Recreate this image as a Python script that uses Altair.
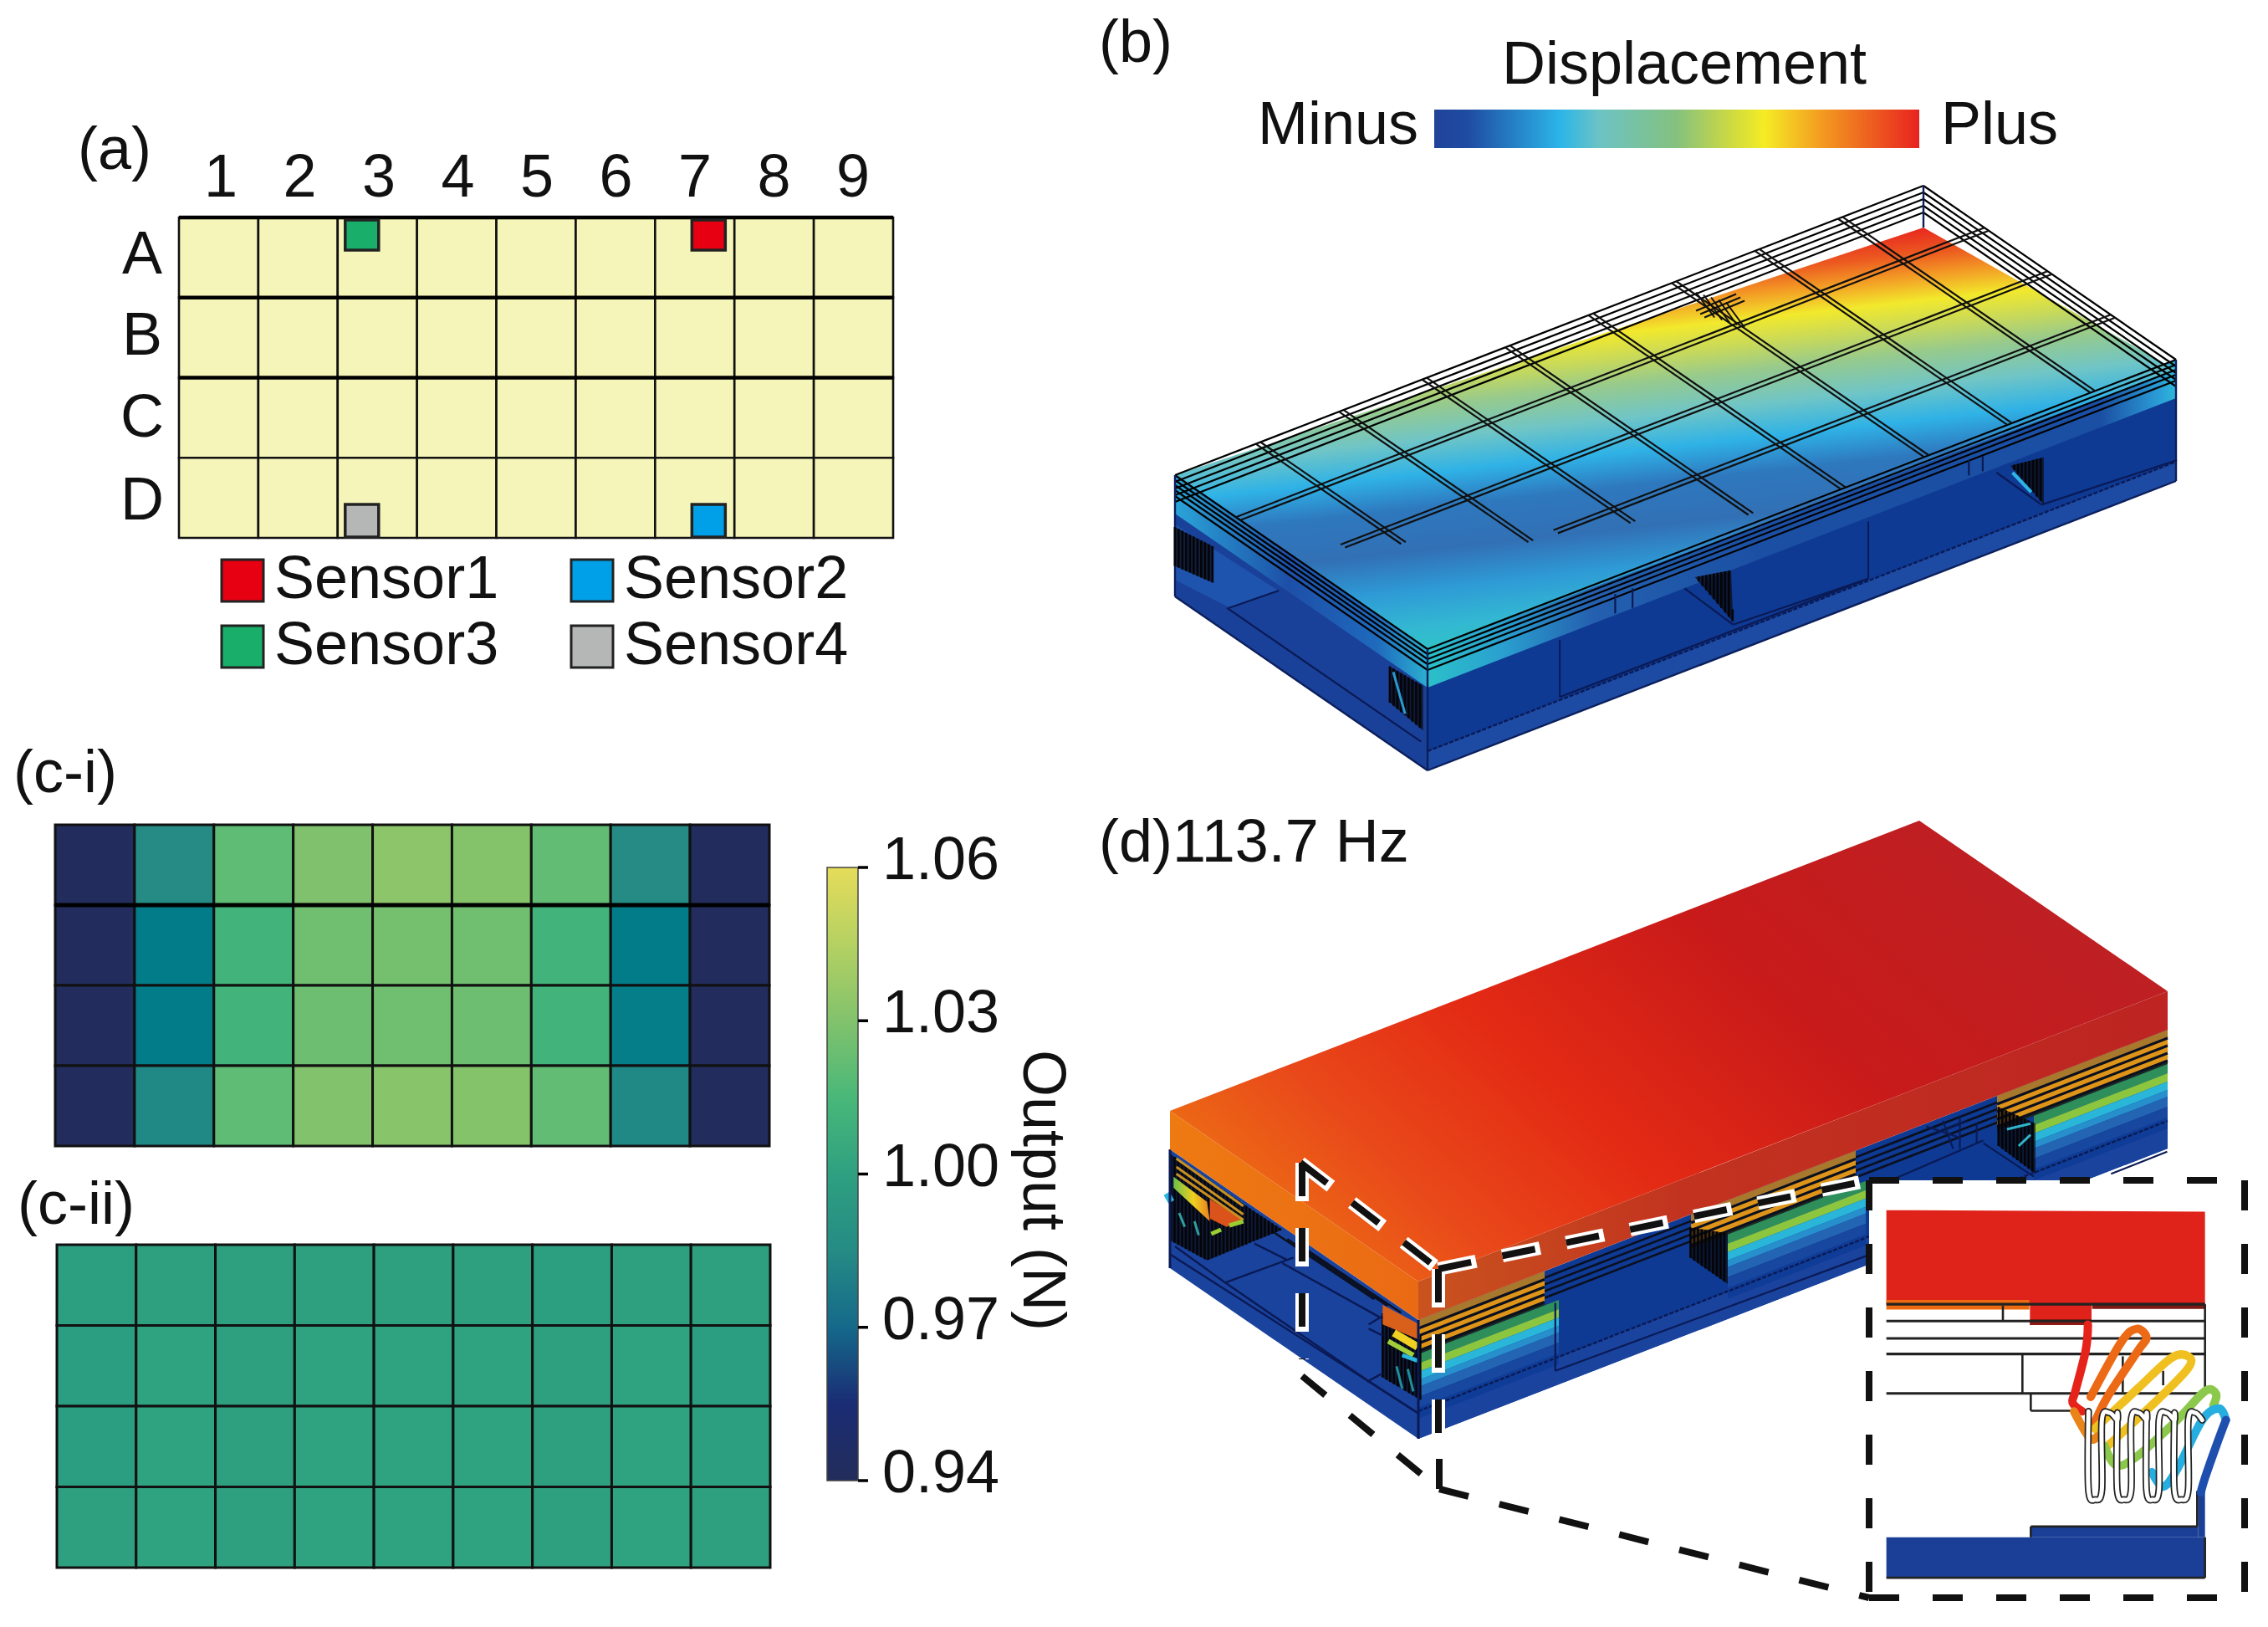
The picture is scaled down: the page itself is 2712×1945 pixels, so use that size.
import altair as alt
import pandas as pd

alt.data_transformers.disable_max_rows()

# ---------- values ----------
COLS = ["1", "2", "3", "4", "5", "6", "7", "8", "9"]
ROWS = ["A", "B", "C", "D"]
SENSOR_NAMES = ["Sensor1", "Sensor2", "Sensor3", "Sensor4"]
SENSOR_COLORS = ["#E60012", "#00A0E9", "#19AE69", "#B5B6B6"]
SENSOR_CELLS = [("A", 7), ("D", 7), ("A", 3), ("D", 3)]
C1 = [
    [0.941, 0.985, 1.020, 1.029, 1.033, 1.031, 1.021, 0.985, 0.941],
    [0.941, 0.978, 1.012, 1.025, 1.026, 1.025, 1.012, 0.978, 0.941],
    [0.941, 0.978, 1.012, 1.024, 1.025, 1.024, 1.012, 0.979, 0.941],
    [0.941, 0.984, 1.020, 1.030, 1.032, 1.031, 1.021, 0.984, 0.941],
]
C2 = [
    [0.999, 1.000, 1.000, 1.000, 1.000, 1.000, 0.999, 1.000, 1.000],
    [0.998, 1.001, 1.000, 1.001, 1.001, 1.001, 1.000, 1.001, 0.998],
    [0.998, 1.001, 1.000, 1.001, 1.001, 1.001, 1.000, 1.001, 0.999],
    [1.000, 1.001, 1.000, 1.001, 1.001, 1.001, 1.000, 1.001, 1.000],
]
CB_DOMAIN = [0.94, 0.955, 0.97, 0.985, 1.0, 1.015, 1.03, 1.045, 1.06]
CB_RANGE = ["#232D5B", "#1A2C74", "#15698A", "#258B84", "#2EA080", "#49B879", "#82C26C", "#B5D162", "#E5DC5A"]
CB_TICKS = [0.94, 0.97, 1.00, 1.03, 1.06]

FONT = "Liberation Sans"
FS = 72
X = lambda f: alt.X(f, type="quantitative", scale=alt.Scale(domain=[8, 2704], nice=False, zero=False), axis=None)
Y = lambda f: alt.Y(f, type="quantitative", scale=alt.Scale(domain=[1937, 8], nice=False, zero=False), axis=None)

layers = []


def grad(stops, x1=0, y1=0, x2=1, y2=0):
    return alt.Gradient(gradient="linear", x1=x1, y1=y1, x2=x2, y2=y2,
                        stops=[alt.GradientStop(offset=o, color=c) for o, c in stops])


def envelope(pts, x):
    ys = []
    n = len(pts)
    for k in range(n):
        (a, b), (c, d) = pts[k], pts[(k + 1) % n]
        if min(a, c) <= x <= max(a, c):
            if a == c:
                ys += [b, d]
            else:
                ys.append(b + (d - b) * (x - a) / (c - a))
    return min(ys), max(ys)


def poly(pts, fill, opacity=1.0):
    """Convex polygon drawn as an area between its upper and lower outline."""
    rows = []
    for x in sorted({p[0] for p in pts}):
        lo, hi = envelope(pts, x)
        rows.append({"x": x, "y": lo, "y2": hi})
    layers.append(alt.Chart(pd.DataFrame(rows)).mark_area(color=fill, opacity=opacity, interpolate="linear")
                  .encode(x=X("x"), y=Y("y"), y2=alt.Y2("y2")))


def seg(items, color="black", w=2.0, dash=None, opacity=1.0, cap="butt", offset=None):
    df = pd.DataFrame(items, columns=["x", "y", "x2", "y2"])
    kw = dict(color=color, strokeWidth=w, opacity=opacity, strokeCap=cap)
    if dash:
        kw["strokeDash"] = dash
    if offset:
        kw["strokeDashOffset"] = offset
    layers.append(alt.Chart(df).mark_rule(**kw).encode(x=X("x"), y=Y("y"), x2=alt.X2("x2"), y2=alt.Y2("y2")))


def hatch(pts, step=4.5, w=2.6):
    """Dense wire bundle: dark veil plus vertical strokes."""
    poly(pts, "#0b0b12", opacity=.72)
    lo, hi = min(p[0] for p in pts), max(p[0] for p in pts)
    items = []
    x = lo
    while x <= hi:
        a, b = envelope(pts, x)
        items.append((x, a, x, b))
        x += step
    seg(items, color="#050508", w=w)


def path(pts, color="black", w=2.0, curve="linear", dash=None, cap="round"):
    df = pd.DataFrame(pts, columns=["x", "y"])
    df["i"] = range(len(df))
    kw = dict(color=color, strokeWidth=w, interpolate=curve, strokeCap=cap, strokeJoin="round")
    if dash:
        kw["strokeDash"] = dash
    layers.append(alt.Chart(df).mark_line(**kw).encode(x=X("x"), y=Y("y"), order=alt.Order("i:Q")))


def text(items, align="center", size=FS, angle=0):
    df = pd.DataFrame(items, columns=["x", "y", "t"])
    layers.append(alt.Chart(df).mark_text(font=FONT, fontSize=size, align=align, baseline="middle",
                                          color="#111111", angle=angle)
                  .encode(x=X("x"), y=Y("y"), text=alt.Text("t:N")))


def rect(x0, x1, y0, y1, **mark):
    layers.append(alt.Chart(pd.DataFrame([{"x": x0, "x2": x1, "y": y0, "y2": y1}])).mark_rect(**mark)
                  .encode(x=X("x"), x2=alt.X2("x2"), y=Y("y"), y2=alt.Y2("y2")))


def cells_frame(values, x0, x1, y0, y1):
    rows = []
    dx, dy = (x1 - x0) / len(values[0]), (y1 - y0) / len(values)
    for r, line in enumerate(values):
        for c, v in enumerate(line):
            rows.append({"x": x0 + c * dx, "x2": x0 + (c + 1) * dx, "y": y0 + r * dy, "y2": y0 + (r + 1) * dy, "v": v})
    return pd.DataFrame(rows)


# ---------- (a) ----------
AX0, AX1, AY0, AY1 = 214, 1068, 260, 643
dxa, dya = (AX1 - AX0) / 9, (AY1 - AY0) / 4
layers.append(alt.Chart(cells_frame([[0] * 9] * 4, AX0, AX1, AY0, AY1))
              .mark_rect(fill="#F5F5B9", stroke="#111111", strokeWidth=2.6)
              .encode(x=X("x"), x2=alt.X2("x2"), y=Y("y"), y2=alt.Y2("y2")))
seg([(AX0, AY0 + dya * r, AX1, AY0 + dya * r) for r in (0, 1, 2)], w=4.5)
SENSOR_INSET = {3: 9, 7: 44}
for (rw, cl), col in zip(SENSOR_CELLS, SENSOR_COLORS):
    x0 = AX0 + (cl - 1) * dxa + SENSOR_INSET[cl]
    y0, y1 = (AY0 + 3, AY0 + 39) if rw == "A" else (AY1 - 40, AY1 - 1)
    rect(x0, x0 + 40, y0, y1, fill=col, stroke="#222222", strokeWidth=3.5)
text([(264 + 94.5 * i, 213, c) for i, c in enumerate(COLS)])
text([(170, y, c) for y, c in zip([305, 402, 500, 599], ROWS)])
text([(93, 180, "(a)")], align="left")
KEY_X, KEY_Y = [265, 683], [669, 748]
for k, (nm, col) in enumerate(zip(SENSOR_NAMES, SENSOR_COLORS)):
    kx, ky = KEY_X[k % 2], KEY_Y[k // 2]
    rect(kx, kx + 50, ky, ky + 50, fill=col, stroke="#222222", strokeWidth=3)
    text([(kx + 63, ky + 24, nm)], align="left")

# ---------- (c) ----------
heat = alt.Scale(domain=CB_DOMAIN, range=CB_RANGE)
for vals, (a, b, c, d) in ((C1, (66, 920, 986, 1370)), (C2, (68, 921, 1488, 1874))):
    layers.append(alt.Chart(cells_frame(vals, a, b, c, d)).mark_rect(stroke="#111111", strokeWidth=3)
                  .encode(x=X("x"), x2=alt.X2("x2"), y=Y("y"), y2=alt.Y2("y2"),
                          color=alt.Color("v:Q", scale=heat, legend=None)))
seg([(66, 986 + 96, 920, 986 + 96)], w=5)
CBX0, CBX1, CBY0, CBY1 = 989, 1026, 1037, 1770
rect(CBX0, CBX1, CBY0, CBY1, stroke="#444444", strokeWidth=1.5,
     color=grad([((v - CB_DOMAIN[0]) / (CB_DOMAIN[-1] - CB_DOMAIN[0]), c) for v, c in zip(CB_DOMAIN, CB_RANGE)],
                x1=0, y1=1, x2=0, y2=0))
cb_y = lambda t: CBY0 + (CB_DOMAIN[-1] - t) / (CB_DOMAIN[-1] - CB_DOMAIN[0]) * (CBY1 - CBY0)
seg([(CBX1, cb_y(t), CBX1 + 12, cb_y(t)) for t in CB_TICKS], w=3.5)
text([(1055, cb_y(t) - 8, f"{t:.2f}") for t in CB_TICKS], align="left")
text([(16, 925, "(c-i)"), (21, 1441, "(c-ii)")], align="left")
text([(1246, 1423, "Output (N)")], angle=90)

# ---------- (b) ----------
zb = lambda x, y: (1380 + x / 1.206, 450 + y / 3)
A, R, L, F = (2300, 222), (2602, 430), (1405, 568), (1707, 776)
ux, uy = (A[0] - L[0]) / 9, (A[1] - L[1]) / 9
vx, vy = (F[0] - L[0]) / 4, (F[1] - L[1]) / 4
G = lambda i, j: (L[0] + i * ux + j * vx, L[1] + i * uy + j * vy)
H = 145
BLUE, BLUE2, BLUE3 = "#0E3A94", "#1A4199", "#1D4BA3"

rect(1715, 2295, 131, 177,
     color=grad([(0, "#20429A"), (.07, "#1F4CA3"), (.26, "#2BB5E8"), (.34, "#6CC3C4"), (.5, "#85C17E"),
                 (.62, "#D2DC3C"), (.68, "#F5EC25"), (.8, "#F39A20"), (1, "#E8231F")]))
text([(2014, 78, "Displacement")])
text([(1696, 150, "Minus")], align="right")
text([(2321, 150, "Plus")], align="left")
text([(1314, 52, "(b)")], align="left")

# body of the device
poly([(L[0], L[1] + 32), (F[0], F[1] + 40), (F[0], F[1] + H), (L[0], L[1] + H)], BLUE2)
poly([(F[0], F[1] + 44), (R[0], R[1] + 44), (R[0], R[1] + H), (F[0], F[1] + H)], BLUE)
poly([(F[0], F[1] + 122), (R[0], R[1] + 122), (R[0], R[1] + H), (F[0], F[1] + H)], BLUE3)
poly([zb(30, 530), zb(180, 770), zb(110, 830), zb(30, 730)], "#1E54AE")
# plate sides
poly([L, F, (F[0], F[1] + 46), (L[0], L[1] + 46)],
     grad([(0, "#2AA5D8"), (.45, "#1D4FA8"), (.8, "#1F6ABD"), (1, "#2BAFD0")]))
poly([F, R, (R[0], R[1] + 46), (F[0], F[1] + 46)],
     grad([(0, "#2BC0C9"), (.1, "#2AA0D0"), (.22, "#2460AF"), (.45, "#1B4FA3"), (.9, "#1B4FA3"), (.98, "#2BA0D8"), (1, "#2DB8D8")]))
# top surface
poly([L, (A[0], A[1] + 50), (R[0], R[1] + 12), F],
     grad([(0, "#E8281F"), (.06, "#EC5A20"), (.11, "#F39A25"), (.17, "#F2E92C"), (.23, "#C8D95A"),
           (.29, "#97CA8C"), (.37, "#70C5C6"), (.45, "#2FB2E6"), (.53, "#2E78BE"), (.63, "#3270B5"),
           (.72, "#2E9AD6"), (.81, "#33B8D2"), (.87, "#2FC3C6"), (1, "#2FC3C6")],
          x1=.75, y1=0, x2=.993, y2=.95))
# rims
back = []
for z in (0, 8, 16, 24, 32):
    back += [(L[0], L[1] + z, A[0], A[1] + z), (A[0], A[1] + z, R[0], R[1] + z)]
seg(back, w=2.2)
front = []
for z in (0, 6, 12, 18, 25):
    front += [(L[0], L[1] + z, F[0], F[1] + z), (F[0], F[1] + z, R[0], R[1] + z)]
seg(front, w=2.2)
seg([(A[0], A[1], A[0], A[1] + 50), (L[0], L[1], L[0], L[1] + H), (F[0], F[1], F[0], F[1] + H), (R[0], R[1], R[0], R[1] + H),
     (L[0], L[1] + H, F[0], F[1] + H), (F[0], F[1] + H, R[0], R[1] + H)], w=2.4, color="#0b1f5c")
# mesh
U_START = {1: 0, 2: .5, 3: 2.3}
V_END = {1: 2.3, 2: 3.0, 3: 3.3, 4: 3.85, 5: 4, 6: 4, 7: 4, 8: 4}
mesh = []
for j, st in U_START.items():
    for o in (-.035, .035):
        p, q = G(st, j + o), G(9, j + o)
        mesh.append((p[0], p[1], q[0], q[1]))
for i, en in V_END.items():
    for o in (-.028, .028):
        p, q = G(i + o, 0), G(i + o, en)
        mesh.append((p[0], p[1], q[0], q[1]))
seg(mesh, w=2.2, color="#101010")
# small wire cluster near the far edge
p0 = G(6.0, 0.35)
seg([(p0[0] + k * 9, p0[1] - 6 + k * 3, p0[0] + k * 9 + 22, p0[1] + 24 + k * 3) for k in range(5)] +
    [(p0[0] + k * 5, p0[1] + 16 + k * 4, p0[0] + 48 + k * 5, p0[1] - 4 + k * 4) for k in range(3)], w=2, color="#101010")
# seams and details on the body
seg([(F[0], F[1] + 122, R[0], R[1] + 122)], w=2.4, color="#0a1a55", dash=[5, 2])
seg([zb(585, 945) + zb(585, 1150), zb(1030, 520) + zb(1030, 725)], w=2, color="#0a1a55")
seg([zb(585, 1150) + zb(1030, 725), zb(665, 780) + zb(665, 850), zb(690, 760) + zb(690, 830), zb(1175, 300) + zb(1175, 355),
     zb(1195, 285) + zb(1195, 340), zb(105, 830) + zb(385, 1310), zb(108, 830) + zb(180, 768), zb(765, 760) + zb(835, 890),
     zb(1215, 345) + zb(1280, 460), zb(835, 890) + zb(1030, 725), zb(1280, 460) + zb(1475, 300)],
    w=2.2, color="#0a1a55")
hatch([zb(780, 720), zb(832, 695), zb(835, 880)])
hatch([zb(1235, 320), zb(1283, 290), zb(1283, 460)])
hatch([zb(340, 1040), zb(388, 1110), zb(388, 1270), zb(340, 1170)])
hatch([zb(30, 540), zb(85, 610), zb(85, 740), zb(30, 680)])
seg([zb(345, 1060) + zb(362, 1210)], w=3, color="#2A9AD0")
seg([zb(1238, 345) + zb(1265, 415)], w=4, color="#2FB4E3")

# ---------- (d) ----------
z5 = lambda x, y: (1380 + x / 1.188, 960 + y / 3)
z6 = lambda x, y: (1380 + x / 1.188, 1400 + y / 2.89)
z7 = lambda x, y: (2220 + x / 3, 1400 + y / 2.89)
zc = lambda x, y: (1390 + x / 3, 1370 + y / 3)
zd = lambda x, y: (1990 + x / 2.489, 1200 + y / 3)
DA, DR, DL, DF = (2295, 981), (2592, 1185), (1399, 1328), (1696, 1532)
TH = 46
BOT = 188
SL = (DR[1] - DF[1]) / (DR[0] - DF[0])
fy = lambda x, off=0: DF[1] + TH + SL * (x - DF[0]) + off   # just below the plate on the right-hand face

poly([(DL[0], DL[1] + TH), (DF[0], DF[1] + TH), (DF[0], DF[1] + BOT), (DL[0], DL[1] + BOT)], "#1A439E")
poly([(DF[0], DF[1] + TH), (DR[0], DR[1] + TH), (DR[0], DR[1] + BOT), (DF[0], DF[1] + BOT)], "#0E3A94")
poly([(DF[0], DF[1] + 155), (DR[0], DR[1] + 155), (DR[0], DR[1] + BOT), (DF[0], DF[1] + BOT)], "#1A439E")

BANDS_GOLD = [(0, 10, "#A8782C"), (10, 38, "#DE9418"), (38, 41, "#1c2a20")]
BANDS_COLD = [(41, 52, "#2F8F5A"), (52, 62, "#8CC63F"), (62, 72, "#29B6D8"), (72, 80, "#2790CC"), (80, 92, "#2465B3"),
              (92, 105, "#17479F"), (105, 118, "#0F3C96")]
SPANS = [(1696, 1847, 1696, 1864), (2022, 2219, 2066, 2231), (2388, 2592, 2432, 2592)]
seg([(DF[0], fy(DF[0], o), DR[0], fy(DR[0], o)) for o in (8, 16, 24, 32)], w=2.6, color="#0b1020")
for g0, g1, c0, c1 in SPANS:
    for a, b, c in BANDS_GOLD:
        poly([(g0, fy(g0, a)), (g1, fy(g1, a)), (g1, fy(g1, b)), (g0, fy(g0, b))], c)
    for a, b, c in BANDS_COLD:
        poly([(c0, fy(c0, a)), (c1, fy(c1, a)), (c1, fy(c1, b)), (c0, fy(c0, b))], c)
    seg([(g0, fy(g0, o), g1, fy(g1, o)) for o in (10, 19, 28, 37)], w=3.2, color="#0b1020")
seg([(DF[0], DF[1] + 155, DR[0], DR[1] + 155)], w=2.4, color="#0a1a55", dash=[5, 2])
seg([z6(570, 455) + z6(570, 690), z6(570, 690) + z6(1015, 290),
     zd(680, 630) + zd(950, 490), zd(950, 500) + zd(1100, 620), zd(930, 430) + zd(930, 500),
     zd(880, 400) + zd(880, 520), zd(830, 420) + zd(860, 520), zd(780, 440) + zd(880, 480), zd(800, 470) + zd(900, 420),
     zd(1497, 530) + zd(1330, 610)], w=2.2, color="#0a1a55")
# dark spring blocks on the right-hand face
hatch([z6(762, 195), z6(815, 215), z6(815, 390), z6(762, 300)])
hatch([zd(995, 370), zd(1105, 430), zd(1105, 610), zd(995, 510)])
seg([zd(1055, 510) + zd(1090, 470), zd(1020, 450) + zd(1090, 430)], w=3, color="#2FB4C8")
# left-hand corner details
hatch([zc(30, 30), zc(330, 235), zc(430, 300), zc(160, 410), zc(30, 340)])
hatch([zc(790, 600), zc(925, 680), zc(925, 910), zc(790, 830)])
poly([zc(40, 110), zc(160, 200), zc(170, 270), zc(40, 150)], grad([(0, "#6CC04A"), (.55, "#F0D020"), (1, "#E88020")]))
poly([zc(170, 190), zc(290, 265), zc(230, 290), zc(170, 260)], "#D9531A")
seg([zc(50, 45) + zc(290, 215), zc(50, 75) + zc(290, 245), zc(50, 100) + zc(290, 265)], w=3, color="#C99020")
seg([zc(240, 285) + zc(290, 270), zc(175, 315) + zc(210, 300)], w=5, color="#9ACD32")
seg([zc(15, 170) + zc(32, 200)], w=8, color="#2AB4E0")
seg([zc(60, 240) + zc(80, 290), zc(115, 270) + zc(130, 320)], w=3, color="#2F9FA0")
poly([zc(790, 570), zc(922, 640), zc(922, 695), zc(790, 640)], "#D9601A")
seg([zc(830, 670) + zc(915, 720)], w=9, color="#F0D020")
seg([zc(810, 700) + zc(900, 750)], w=6, color="#A0CF3A")
seg([zc(860, 750) + zc(915, 770)], w=5, color="#2AB4DC")
seg([zc(840, 790) + zc(860, 870), zc(880, 800) + zc(900, 880)], w=3, color="#1F8F9A")
seg([zc(30, 390) + zc(920, 960), zc(225, 490) + zc(735, 840), zc(225, 490) + zc(470, 400), zc(45, 360) + zc(225, 490),
     zc(330, 350) + zc(450, 410), zc(430, 420) + zc(790, 620), zc(735, 845) + zc(790, 815), zc(735, 840) + zc(920, 960),
     zc(740, 640) + zc(790, 610), zc(740, 655) + zc(790, 680)], w=2.4, color="#0a1a55")
seg([(zc(400, 310)[0] + o * 2, zc(400, 310)[1] + o, zc(760, 550)[0] + o * 2, zc(760, 550)[1] + o) for o in (0, 8, 16)],
    w=2.4, color="#0b1020")
seg([(DF[0], DF[1] + TH, DF[0], DF[1] + BOT), (DL[0], DL[1] + TH, DL[0], DL[1] + BOT)], w=3, color="#0a1a55")

# plate: sides and top
poly([DL, DF, (DF[0], DF[1] + TH), (DL[0], DL[1] + TH)], grad([(0, "#EE7A12"), (1, "#EA6A14")]))
poly([DF, DR, (DR[0], DR[1] + TH), (DF[0], DF[1] + TH)],
     grad([(0, "#C9531E"), (.35, "#C2331F"), (1, "#BD2422")]))
poly([DL, DA, DR, DF],
     grad([(0, "#EE7B12"), (.22, "#E9491A"), (.42, "#E32A14"), (.68, "#C81A1A"), (1, "#BD2024")],
          x1=0, y1=.85, x2=1, y2=.35))

# inset background (covers the body)
BX0, BX1, BY0, BY1 = 2235, 2684, 1411, 1910
poly([(BX0, BY0), (2700, BY0), (2700, BY1), (BX0, BY1)], "#FFFFFF")

# dashed zoom lines with white halo where they cross the device
P1, J = (1555, 1390), (1720, 1517)
P2, TIP = (1557, 1645), (1721, 1780)
halo = [(P1[0], P1[1], J[0], J[1]), (J[0], J[1], BX0, BY0), (J[0], J[1], J[0], 1718), (P1[0] + 2, P1[1], P1[0] + 2, P2[1] - 20)]
seg(halo, color="#FFFFFF", w=16, dash=[46, 32])
seg(halo, color="#111111", w=8, dash=[40, 38], offset=0)
outer = [(P2[0], P2[1], TIP[0], TIP[1]), (TIP[0], TIP[1], TIP[0], 1730), (TIP[0], TIP[1], BX0, BY1)]
seg(outer, color="#111111", w=8, dash=[36, 38])
seg([(BX0, BY0, BX1, BY0), (BX0, BY1, BX1, BY1), (BX0, BY0, BX0, BY1), (BX1, BY0, BX1, BY1)],
    color="#111111", w=8, dash=[36, 40])

# inset contents
INSET_RED = "#E0231A"
poly([z7(107, 135), z7(1250, 140), z7(1250, 460), z7(107, 460)], INSET_RED)
poly([z7(107, 445), z7(620, 445), z7(620, 478), z7(107, 478)], "#EE6A10")
poly([z7(845, 455), z7(1250, 455), z7(1250, 476), z7(845, 476)], "#7A1A12")
poly([z7(622, 460), z7(843, 460), z7(843, 532), z7(622, 532)], INSET_RED)
poly([z7(622, 512), z7(843, 512), z7(843, 532), z7(622, 532)], "#8A1A12")
INSET_BLUE = "#1B3F97"
poly([z7(107, 1265), z7(1250, 1265), z7(1250, 1405), z7(107, 1405)], INSET_BLUE)
poly([z7(625, 1228), z7(1225, 1228), z7(1225, 1265), z7(625, 1265)], INSET_BLUE)
poly([z7(1225, 1100), z7(1250, 1100), z7(1250, 1265), z7(1225, 1265)], INSET_BLUE)
seg([z7(107, 460) + z7(1250, 460), z7(107, 518) + z7(1250, 518), z7(107, 578) + z7(1250, 578),
     z7(107, 632) + z7(1250, 632), z7(107, 768) + z7(1250, 768)], w=3.2, color="#222222")
seg([z7(1250, 460) + z7(1250, 768), z7(525, 465) + z7(525, 515), z7(595, 635) + z7(595, 768),
     z7(625, 770) + z7(625, 828), z7(625, 828) + z7(830, 828), z7(955, 640) + z7(955, 765), z7(1100, 690) + z7(1100, 740),
     z7(107, 1405) + z7(1250, 1405), z7(1250, 1265) + z7(1250, 1405), z7(625, 1228) + z7(1222, 1228),
     z7(1222, 1228) + z7(1222, 1105), z7(625, 1228) + z7(625, 1265)], w=2.6, color="#222222")

# meander in its rest position
strands = [832, 880, 935, 985, 1040, 1085, 1140, 1190, 1240]
mp = []
for k in range(len(strands) - 1):
    a, b = strands[k], strands[k + 1]
    if k % 2 == 0:
        mp += [(a, 850 if k else 830), (a, 1100), ((a + b) / 2, 1135), (b, 1100)]
    else:
        mp += [(a, 860), ((a + b) / 2, 835), (b, 860)]
mp = [z7(*p) for p in mp]

# displaced, coloured spring
SPRING = [
    ([(830, 530), (822, 620), (785, 760), (775, 800), (810, 830)], "#E6231A"),
    ([(780, 830), (840, 925), (875, 900)], "#E8841A"),
    ([(840, 780), (950, 590), (1005, 545), (1040, 575), (1010, 620), (900, 780), (850, 880)], "#EC6A16"),
    ([(855, 890), (1010, 750), (1130, 645), (1190, 640), (1190, 680), (1080, 790), (900, 950)], "#F0C020"),
    ([(890, 950), (930, 1015), (1000, 990), (1150, 860), (1250, 760), (1290, 770), (1280, 810)], "#8CC84B"),
    ([(1060, 1040), (1100, 1090), (1150, 1030), (1240, 860), (1300, 820), (1325, 860)], "#27AEE0"),
    ([(1325, 860), (1290, 950), (1250, 1060), (1235, 1110)], "#1F4FAE"),
]
for pts, col in SPRING:
    path([z7(*p) for p in pts], color=col, w=10, curve="cardinal")
path(mp, color="#222222", w=8.5, curve="cardinal")
path(mp, color="#FFFFFF", w=5, curve="cardinal")

text([(1314, 1008, "(d)113.7 Hz")], align="left")

chart = alt.layer(*layers).properties(
    width=2696, height=1929, padding=0,
    autosize=alt.AutoSizeParams(type="none"),
).configure_view(stroke=None)
chart.save("out.html", embed_options={"renderer": "svg", "actions": False})
